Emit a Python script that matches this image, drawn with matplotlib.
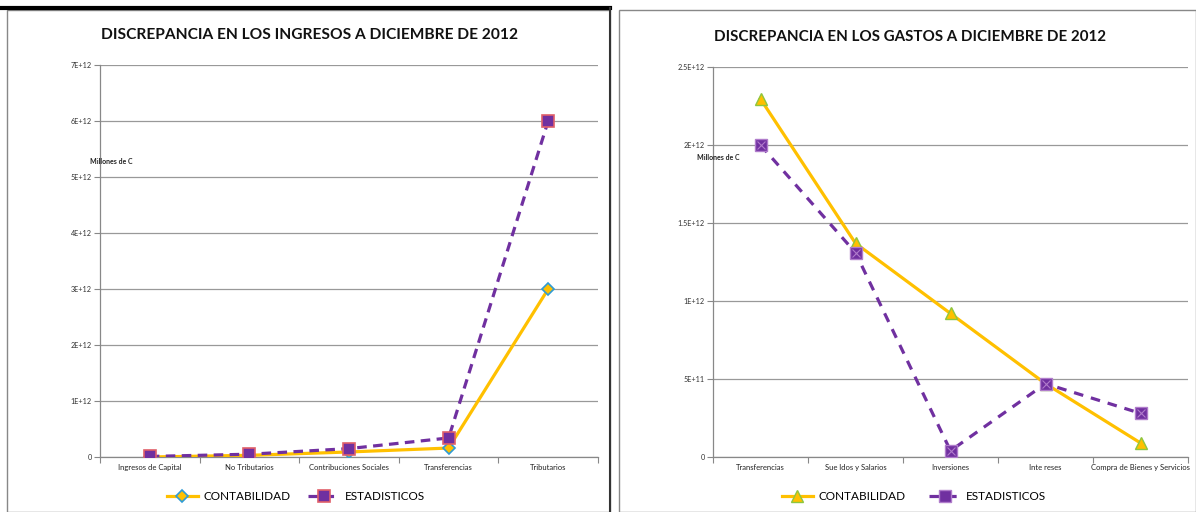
import matplotlib
matplotlib.use("Agg")
import matplotlib.pyplot as plt
from matplotlib.lines import Line2D
from matplotlib.patches import Rectangle
import numpy as np

plt.rcParams['font.family'] = ['Lato', 'DejaVu Sans']

# ---- data ----
ing_categories = ["Ingresos de Capital", "No Tributarios", "Contribuciones Sociales",
                  "Transferencias", "Tributarios"]
ing_contabilidad = [0.0, 0.03e12, 0.09e12, 0.16e12, 3.0e12]
ing_estadisticos = [0.01e12, 0.05e12, 0.15e12, 0.34e12, 6.0e12]
ing_yticks = [0, 1e12, 2e12, 3e12, 4e12, 5e12, 6e12, 7e12]
ing_ylabels = ["0", "1E+12", "2E+12", "3E+12", "4E+12", "5E+12", "6E+12", "7E+12"]

gas_categories = ["Transferencias", "Sue ldos y Salarios", "Inversiones",
                  "Inte reses", "Compra de Bienes y Servicios"]
gas_contabilidad = [2.295e12, 1.37e12, 0.92e12, 0.47e12, 0.09e12]
gas_estadisticos = [2.0e12, 1.31e12, 0.04e12, 0.47e12, 0.28e12]
gas_yticks = [0, 0.5e12, 1e12, 1.5e12, 2e12, 2.5e12]
gas_ylabels = ["0", "5E+11", "1E+12", "1.5E+12", "2E+12", "2.5E+12"]

GOLD = "#FFC000"
PURPLE = "#7030A0"
W, H = 1196, 512

fig = plt.figure(figsize=(W / 100, H / 100), dpi=100)

def fx(px):
    return px / W

def fy(py):
    return 1 - py / H

# panel frames
fig.patches.append(Rectangle((fx(7), 0), fx(603), fy(10), transform=fig.transFigure,
                             fill=False, edgecolor="#888888", lw=1))
fig.add_artist(Line2D([0, fx(610)], [fy(8), fy(8)], color="black", lw=3, transform=fig.transFigure))
fig.add_artist(Line2D([fx(610), fx(610)], [fy(8), 0], color="#333333", lw=1.5, transform=fig.transFigure))
fig.patches.append(Rectangle((fx(619), 0), fx(577), fy(10), transform=fig.transFigure,
                             fill=False, edgecolor="#888888", lw=1))


def setup(ax, cats, yticks, ylabels, ymax):
    n = len(cats)
    ax.set_xlim(-0.5, n - 0.5)
    ax.set_ylim(0, ymax)
    ax.set_yticks(yticks)
    ax.set_yticklabels(ylabels, fontsize=5.2, color="#333333")
    ax.set_xticks(np.arange(-0.5, n, 1.0))
    ax.set_xticklabels([])
    ax.set_xticks(np.arange(n), minor=True)
    ax.set_xticklabels(cats, minor=True, fontsize=5.5, color="#222222")
    ax.tick_params(axis='x', which='minor', length=0, pad=5)
    ax.tick_params(axis='x', which='major', length=4, color="#888888", direction='out')
    ax.tick_params(axis='y', length=4, color="#888888", pad=2)
    ax.grid(axis='y', color="#999999", lw=0.9)
    ax.set_axisbelow(True)
    for s in ["top", "right"]:
        ax.spines[s].set_visible(False)
    for s in ["left", "bottom"]:
        ax.spines[s].set_color("#888888")
        ax.spines[s].set_linewidth(0.9)


# ---- left chart ----
ax1 = fig.add_axes([fx(100), fy(457), fx(498), (457 - 65) / H])
setup(ax1, ing_categories, ing_yticks, ing_ylabels, 7e12)
x1 = np.arange(len(ing_categories))
ax1.plot(x1, ing_contabilidad, color=GOLD, lw=2.3, marker="D", ms=6.5,
         mfc=GOLD, mec="#2E9BD6", mew=1.2, zorder=3)
ax1.plot(x1, ing_estadisticos, color=PURPLE, lw=2.3, ls=(0, (3, 2)), marker="s", ms=8,
         mfc=PURPLE, mec="#E0606A", mew=1.2, zorder=4)
fig.text(fx(310), fy(35), "DISCREPANCIA EN LOS INGRESOS A DICIEMBRE DE 2012",
         ha="center", va="center", fontsize=11.2, fontweight="bold", color="#111111")
fig.text(fx(90), fy(162), "Millones de C", fontsize=5, fontweight="bold", color="#222222",
         ha="left", va="center")

h1 = [Line2D([], [], color=GOLD, lw=2.3, marker="D", ms=6.5, mfc=GOLD, mec="#2E9BD6", mew=1.2),
      Line2D([], [], color=PURPLE, lw=2.3, ls=(0, (3, 2)), marker="s", ms=8, mfc=PURPLE,
             mec="#E0606A", mew=1.2)]
fig.legend(h1, ["CONTABILIDAD", "ESTADISTICOS"], loc="center", bbox_to_anchor=(fx(296), fy(497)),
           ncol=2, frameon=False, fontsize=8.5, handlelength=2.6, columnspacing=1.5,
           handletextpad=0.5)

# ---- right chart ----
ax2 = fig.add_axes([fx(713), fy(457), fx(475), (457 - 67) / H])
setup(ax2, gas_categories, gas_yticks, gas_ylabels, 2.5e12)
x2 = np.arange(len(gas_categories))
ax2.plot(x2, gas_contabilidad, color=GOLD, lw=2.3, marker="^", ms=8,
         mfc=GOLD, mec="#8DC63F", mew=1.0, zorder=3)
ax2.plot(x2, gas_estadisticos, color=PURPLE, lw=2.3, ls=(0, (3, 2.5)), marker="s", ms=8,
         mfc=PURPLE, mec="#B07CCB", mew=1.0, zorder=4)
ax2.plot(x2, gas_estadisticos, ls="none", marker="x", ms=6, mec="#B07CCB", mew=0.8, zorder=5)
fig.text(fx(910), fy(37), "DISCREPANCIA EN LOS GASTOS A DICIEMBRE DE 2012",
         ha="center", va="center", fontsize=10.9, fontweight="bold", color="#111111")
fig.text(fx(697), fy(157), "Millones de C", fontsize=5, fontweight="bold", color="#222222",
         ha="left", va="center")

h2 = [Line2D([], [], color=GOLD, lw=2.3, marker="^", ms=8, mfc=GOLD, mec="#8DC63F", mew=1.0),
      Line2D([], [], color=PURPLE, lw=2.3, ls=(0, (3, 2.5)), marker="s", ms=8, mfc=PURPLE,
             mec="#B07CCB", mew=1.0)]
fig.legend(h2, ["CONTABILIDAD", "ESTADISTICOS"], loc="center", bbox_to_anchor=(fx(914), fy(497)),
           ncol=2, frameon=False, fontsize=8.5, handlelength=2.6, columnspacing=2.0,
           handletextpad=0.5)

fig.savefig("out.png", dpi=100)
